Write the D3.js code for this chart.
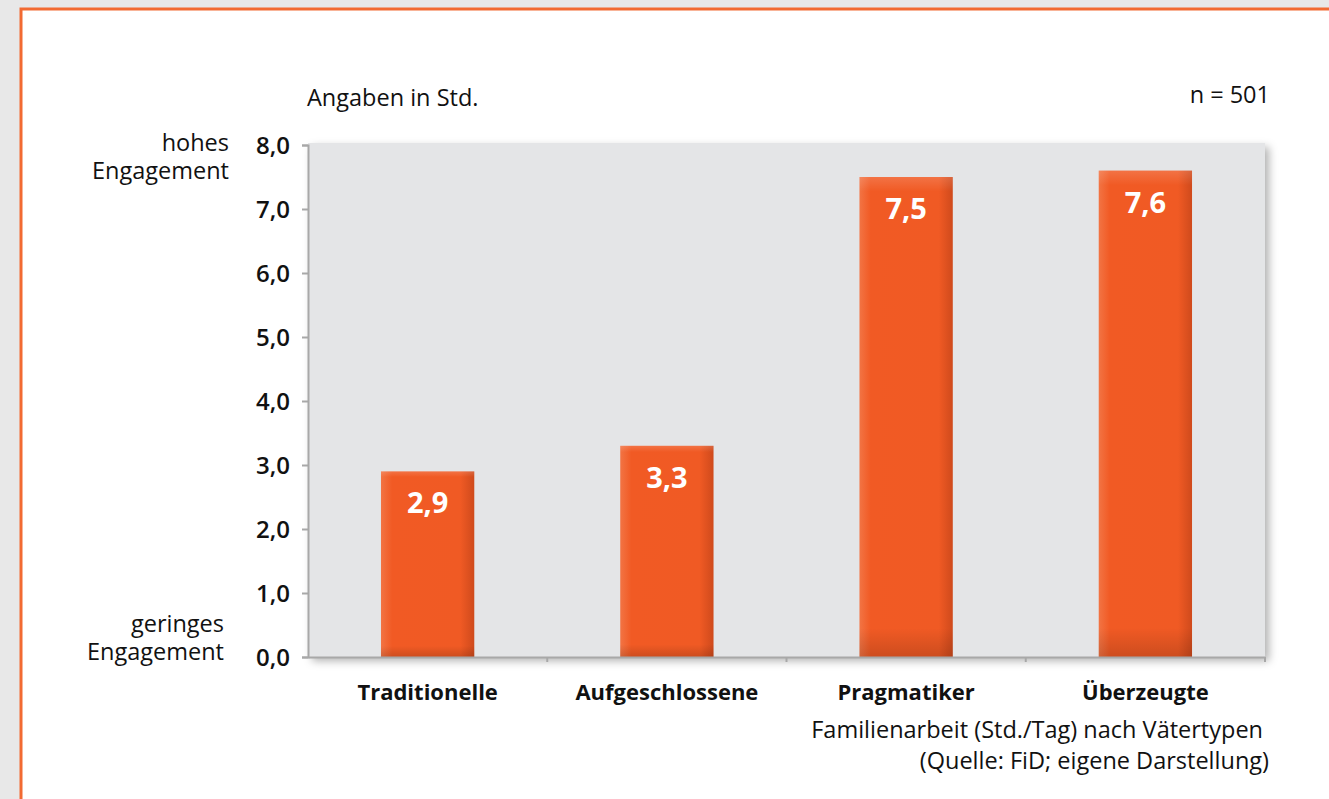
<!DOCTYPE html>
<html>
<head>
<meta charset="utf-8">
<script src="https://cdn.jsdelivr.net/npm/d3@7"></script>
<style>
body { margin: 0; background: #e8e8e8; overflow: hidden; }
svg { display: block; font-family: "Open Sans", sans-serif; }
</style>
</head>
<body>
<script>
/* data */
var categories = ["Traditionelle", "Aufgeschlossene", "Pragmatiker", "Überzeugte"]
var hours = [2.9, 3.3, 7.5, 7.6]
var yTicks = [0, 1, 2, 3, 4, 5, 6, 7, 8]

var width = 1329, height = 799
var plot = {left: 308, right: 1265, top: 143, bottom: 657}

var svg = d3.select("body").append("svg")
	.attr("width", width)
	.attr("height", height)

var defs = svg.append("defs")

var shadow = defs.append("filter").attr("id", "shadow")
	.attr("x", "-5%").attr("y", "-5%").attr("width", "112%").attr("height", "115%")
shadow.append("feDropShadow")
	.attr("dx", 4).attr("dy", 4).attr("stdDeviation", 4)
	.attr("flood-color", "#000").attr("flood-opacity", 0.3)

var gradH = defs.append("linearGradient").attr("id", "barH")
	.attr("x1", 0).attr("x2", 1).attr("y1", 0).attr("y2", 0)
gradH.append("stop").attr("offset", "0%").attr("stop-color", "#f27444")
gradH.append("stop").attr("offset", "12%").attr("stop-color", "#f15a24")
gradH.append("stop").attr("offset", "85%").attr("stop-color", "#f05a24")
gradH.append("stop").attr("offset", "100%").attr("stop-color", "#cf4a1c")

var gradV = defs.append("linearGradient").attr("id", "barV")
	.attr("x1", 0).attr("x2", 0).attr("y1", 0).attr("y2", 1)
gradV.append("stop").attr("offset", "0%").attr("stop-color", "#ffffff").attr("stop-opacity", 0.15)
gradV.append("stop").attr("offset", "3%").attr("stop-color", "#ffffff").attr("stop-opacity", 0)
gradV.append("stop").attr("offset", "94%").attr("stop-color", "#000000").attr("stop-opacity", 0)
gradV.append("stop").attr("offset", "100%").attr("stop-color", "#000000").attr("stop-opacity", 0.15)

/* white panel with orange frame */
svg.append("rect")
	.attr("x", 21).attr("y", 9)
	.attr("width", width).attr("height", height)
	.attr("fill", "#fff")
	.attr("stroke", "#f26a32")
	.attr("stroke-width", 3)

var xScale = d3.scaleBand()
	.domain(categories)
	.range([plot.left, plot.right])
	.paddingInner(0.61)
	.paddingOuter(0.305)

var yScale = d3.scaleLinear()
	.domain([0, 8])
	.range([plot.bottom, plot.top + 2])

/* plot background */
svg.append("rect")
	.attr("x", plot.left).attr("y", plot.top)
	.attr("width", plot.right - plot.left).attr("height", plot.bottom - plot.top)
	.attr("fill", "#e4e5e7")
	.attr("filter", "url(#shadow)")

/* bars */
var bars = svg.append("g").selectAll("g")
	.data(hours)
	.enter().append("g")

bars.append("rect")
	.attr("x", function(d, i){ return xScale(categories[i]) })
	.attr("y", function(d){ return yScale(d) })
	.attr("width", xScale.bandwidth())
	.attr("height", function(d){ return yScale(0) - yScale(d) })
	.attr("fill", "url(#barH)")

bars.append("rect")
	.attr("x", function(d, i){ return xScale(categories[i]) })
	.attr("y", function(d){ return yScale(d) })
	.attr("width", xScale.bandwidth())
	.attr("height", function(d){ return yScale(0) - yScale(d) })
	.attr("fill", "url(#barV)")

bars.append("text")
	.attr("x", function(d, i){ return xScale(categories[i]) + xScale.bandwidth() / 2 })
	.attr("y", function(d){ return yScale(d) + 42 })
	.attr("text-anchor", "middle")
	.attr("fill", "#fff")
	.attr("font-size", 29)
	.attr("font-weight", 700)
	.text(function(d){ return d.toFixed(1).replace(".", ",") })

/* y axis */
var yAxis = d3.axisLeft(yScale)
	.tickValues(yTicks)
	.tickSize(6)
	.tickPadding(12)
	.tickFormat(function(d){ return d.toFixed(1).replace(".", ",") })

var yG = svg.append("g")
	.attr("transform", "translate(" + plot.left + ",0)")
	.call(yAxis)
yG.select(".domain").attr("stroke", "#a8a8a8").attr("stroke-width", 2)
yG.selectAll(".tick line").attr("stroke", "#a8a8a8").attr("stroke-width", 2)
yG.selectAll(".tick text")
	.attr("font-family", "'Open Sans', sans-serif")
	.attr("font-size", 24)
	.attr("font-weight", 600)
	.attr("fill", "#111")
	.attr("dy", "0.36em")

/* x axis */
var xAxis = d3.axisBottom(xScale)
	.tickSize(0)
	.tickPadding(27)

var xG = svg.append("g")
	.attr("transform", "translate(0," + plot.bottom + ")")
	.call(xAxis)
xG.select(".domain").attr("stroke", "#a8a8a8").attr("stroke-width", 2)
xG.selectAll(".tick text")
	.attr("font-family", "'Open Sans', sans-serif")
	.attr("font-size", 22)
	.attr("font-weight", 700)
	.attr("fill", "#111")

/* small separators between categories */
var step = xScale.step()
xG.selectAll(".sep")
	.data(categories)
	.enter().append("line")
	.attr("x1", function(d){ return xScale(d) - xScale.paddingOuter() * step + step })
	.attr("x2", function(d){ return xScale(d) - xScale.paddingOuter() * step + step })
	.attr("y1", 0).attr("y2", 5)
	.attr("stroke", "#a8a8a8").attr("stroke-width", 2)

/* texts, multi-line ones as tspans */
function label(x, y, lines, anchor){
	if (typeof lines === "string") lines = [lines]
	var t = svg.append("text")
		.attr("x", x).attr("y", y)
		.attr("text-anchor", anchor || "start")
		.attr("font-size", 23.5)
		.attr("fill", "#111")
	lines.forEach(function(l, i){
		t.append("tspan")
			.attr("x", x)
			.attr("dy", i == 0 ? 0 : 28)
			.text(l)
	})
}

label(307, 106, "Angaben in Std.")
label(1270, 103, "n = 501", "end")
label(229, 151, ["hohes", "Engagement"], "end")
label(224, 632, ["geringes", "Engagement"], "end")
label(1263, 738, "Familienarbeit (Std./Tag) nach Vätertypen", "end")
label(1269, 769, "(Quelle: FiD; eigene Darstellung)", "end")
</script>
</body>
</html>
